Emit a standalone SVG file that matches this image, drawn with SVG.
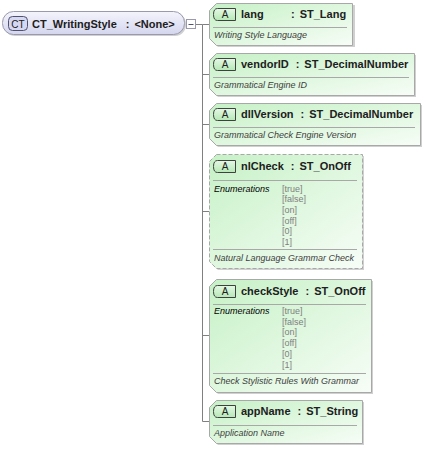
<svg xmlns="http://www.w3.org/2000/svg" width="426" height="450" viewBox="0 0 426 450">
<defs>
<linearGradient id="gA" x1="0" y1="0" x2="1" y2="1">
<stop offset="0" stop-color="#c6f1c6"/>
<stop offset="1" stop-color="#f7fdf7"/>
</linearGradient>
<linearGradient id="gCT" x1="0" y1="0" x2="0" y2="1">
<stop offset="0" stop-color="#f4f4fc"/>
<stop offset="1" stop-color="#d4d6ee"/>
</linearGradient>
<linearGradient id="gBadge" x1="0" y1="0" x2="0" y2="1">
<stop offset="0" stop-color="#e4f8e4"/>
<stop offset="1" stop-color="#b6e8b6"/>
</linearGradient>
</defs>
<style>
.box{fill:url(#gA);stroke:#a8a8a8;stroke-width:1}
.opt{stroke-dasharray:4 2}
.shadow{fill:#d0d0d0}
.badge{fill:url(#gBadge);stroke:#404040;stroke-width:1}
.bt{font-family:"Liberation Sans",Arial,sans-serif;font-size:10px;fill:#202020}
.hd{font-family:"Liberation Sans",Arial,sans-serif;font-size:11px;font-weight:bold;fill:#202020}
.sep{stroke:#a8a8a8;stroke-width:1}
.desc{font-family:"Liberation Sans",Arial,sans-serif;font-size:9px;font-style:italic;fill:#404040}
.en{font-family:"Liberation Sans",Arial,sans-serif;font-size:9px;font-style:italic;fill:#000}
.val{font-family:"Liberation Sans",Arial,sans-serif;font-size:9px;fill:#808080}
.conn{stroke:#808080;stroke-width:1;fill:none}
</style>

<g id="connectors">
<path class="conn" d="M195.5 24.5 H202.5 M202.5 24.5 V421.5 M202.5 24.5 H209 M202.5 74.5 H209 M202.5 124.5 H209 M202.5 211.5 H209 M202.5 335.5 H209 M202.5 421.5 H209"/>
</g>

<g id="CT_WritingStyle">
<rect x="4" y="13" width="182" height="23" rx="11" class="shadow"/>
<rect x="2.5" y="11.5" width="182" height="23" rx="11" fill="url(#gCT)" stroke="#9a9aae"/>
<rect x="8.5" y="16.5" width="19" height="14" rx="4" fill="#d6d8f2" stroke="#505070"/>
<text x="18" y="27.5" text-anchor="middle" class="bt" fill="#303050">CT</text>
<text x="32" y="27.5" class="hd">CT_WritingStyle<tspan dx="9">:</tspan><tspan dx="5">&lt;None&gt;</tspan></text>
<rect x="186.5" y="19.5" width="9" height="9" fill="#fff" stroke="#9a9aae"/>
<path d="M188.5 24.5 H193.5" stroke="#505070"/>
</g>

<g id="lang">
<path class="shadow" d="M218 5 H355 V47 H218 L211 40 V12 Z"/>
<path class="box" d="M216.5 3.5 H352.5 V45.5 H216.5 L209.5 38.5 V10.5 Z"/>
<path class="badge" d="M217.5 8.5 H235.5 V20.5 H217.5 Q213.5 20.5 213.5 14.5 Q213.5 8.5 217.5 8.5 Z"/>
<text x="225" y="18" text-anchor="middle" class="bt">A</text>
<text x="241" y="18" class="hd">lang</text>
<text x="291" y="18" class="hd">:<tspan dx="5">ST_Lang</tspan></text>
<path class="sep" d="M213 27.5 H347"/>
<text x="214" y="38" class="desc">Writing Style Language</text>
</g>

<g id="vendorID">
<path class="shadow" d="M218 55 H416 V97 H218 L211 90 V62 Z"/>
<path class="box" d="M216.5 53.5 H414.5 V95.5 H216.5 L209.5 88.5 V60.5 Z"/>
<path class="badge" d="M217.5 58.5 H235.5 V70.5 H217.5 Q213.5 70.5 213.5 64.5 Q213.5 58.5 217.5 58.5 Z"/>
<text x="225" y="68" text-anchor="middle" class="bt">A</text>
<text x="241" y="68" class="hd">vendorID<tspan dx="7">:</tspan><tspan dx="5">ST_DecimalNumber</tspan></text>
<path class="sep" d="M213 77.5 H409"/>
<text x="214" y="88" class="desc">Grammatical Engine ID</text>
</g>

<g id="dllVersion">
<path class="shadow" d="M218 105 H422 V147 H218 L211 140 V112 Z"/>
<path class="box" d="M216.5 103.5 H420.5 V145.5 H216.5 L209.5 138.5 V110.5 Z"/>
<path class="badge" d="M217.5 108.5 H235.5 V120.5 H217.5 Q213.5 120.5 213.5 114.5 Q213.5 108.5 217.5 108.5 Z"/>
<text x="225" y="118" text-anchor="middle" class="bt">A</text>
<text x="241" y="118" class="hd">dllVersion<tspan dx="7">:</tspan><tspan dx="5">ST_DecimalNumber</tspan></text>
<path class="sep" d="M213 127.5 H415"/>
<text x="214" y="138" class="desc">Grammatical Check Engine Version</text>
</g>

<g id="nlCheck">
<path class="shadow" d="M218 156 H364 V270 H218 L211 263 V163 Z"/>
<path class="box opt" d="M216.5 154.5 H362.5 V268.5 H216.5 L209.5 261.5 V161.5 Z"/>
<path class="badge" d="M217.5 160.5 H235.5 V172.5 H217.5 Q213.5 172.5 213.5 166.5 Q213.5 160.5 217.5 160.5 Z"/>
<text x="225" y="170" text-anchor="middle" class="bt">A</text>
<text x="241" y="170" class="hd">nlCheck<tspan dx="7">:</tspan><tspan dx="5">ST_OnOff</tspan></text>
<path class="sep" d="M213 180.5 H357"/>
<text x="214" y="192" class="en">Enumerations</text>
<text x="282" y="192" class="val">[true]</text>
<text x="282" y="202" class="val">[false]</text>
<text x="282" y="213" class="val">[on]</text>
<text x="282" y="224" class="val">[off]</text>
<text x="282" y="234" class="val">[0]</text>
<text x="282" y="245" class="val">[1]</text>
<path class="sep" d="M213 249.5 H357"/>
<text x="214" y="261" class="desc">Natural Language Grammar Check</text>
</g>

<g id="checkStyle">
<path class="shadow" d="M218 281 H373 V394 H218 L211 387 V288 Z"/>
<path class="box" d="M216.5 279.5 H371.5 V392.5 H216.5 L209.5 385.5 V286.5 Z"/>
<path class="badge" d="M217.5 285.5 H235.5 V297.5 H217.5 Q213.5 297.5 213.5 291.5 Q213.5 285.5 217.5 285.5 Z"/>
<text x="225" y="295" text-anchor="middle" class="bt">A</text>
<text x="241" y="295" class="hd">checkStyle<tspan dx="7">:</tspan><tspan dx="5">ST_OnOff</tspan></text>
<path class="sep" d="M213 304.5 H366"/>
<text x="214" y="314" class="en">Enumerations</text>
<text x="282" y="314" class="val">[true]</text>
<text x="282" y="325" class="val">[false]</text>
<text x="282" y="335" class="val">[on]</text>
<text x="282" y="346" class="val">[off]</text>
<text x="282" y="357" class="val">[0]</text>
<text x="282" y="368" class="val">[1]</text>
<path class="sep" d="M213 373.5 H366"/>
<text x="214" y="384" class="desc">Check Stylistic Rules With Grammar</text>
</g>

<g id="appName">
<path class="shadow" d="M218 402 H364 V445 H218 L211 438 V409 Z"/>
<path class="box" d="M216.5 400.5 H362.5 V443.5 H216.5 L209.5 436.5 V407.5 Z"/>
<path class="badge" d="M217.5 405.5 H235.5 V417.5 H217.5 Q213.5 417.5 213.5 411.5 Q213.5 405.5 217.5 405.5 Z"/>
<text x="225" y="415" text-anchor="middle" class="bt">A</text>
<text x="241" y="415" class="hd">appName<tspan dx="7">:</tspan><tspan dx="5">ST_String</tspan></text>
<path class="sep" d="M213 425.5 H357"/>
<text x="214" y="436" class="desc">Application Name</text>
</g>
</svg>
